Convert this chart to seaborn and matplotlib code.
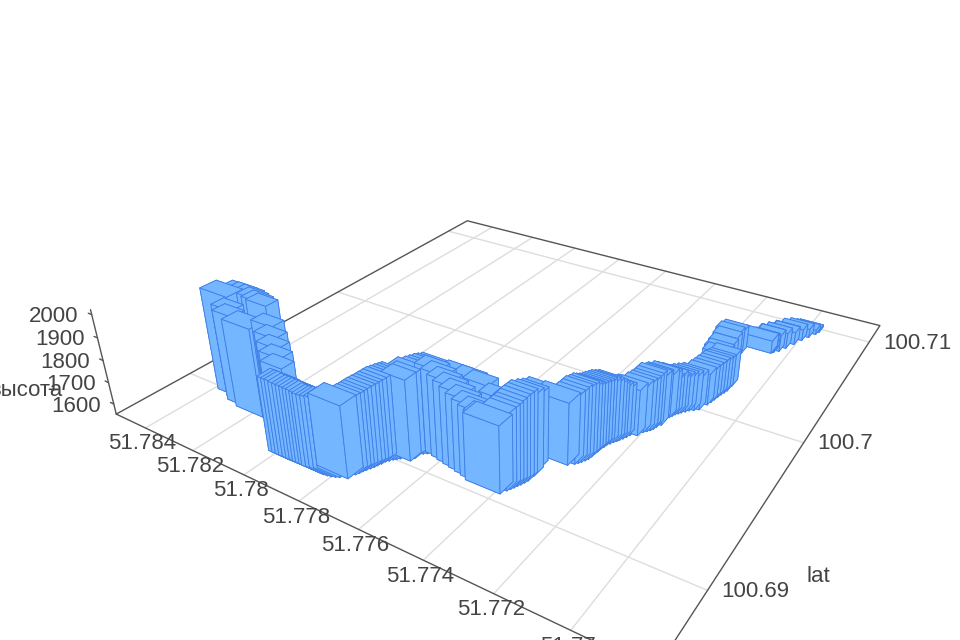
# 3D bars along a track, lon / lat / altitude
import pandas as pd
import seaborn as sns
import matplotlib
matplotlib.use('Agg')
import matplotlib.pyplot as plt
from mpl_toolkits.mplot3d import proj3d

lon = [51.78278, 51.78256, 51.78238, 51.78268, 51.78245, 51.78222, 51.78204, 51.78190, 51.78176, 51.78159,
       51.78106, 51.78079, 51.78053, 51.78027, 51.78004, 51.77945, 51.77920, 51.77894, 51.77869, 51.77845,
       51.77822, 51.77799, 51.77778, 51.77757, 51.77751, 51.77744, 51.77735, 51.77728, 51.77721, 51.77709,
       51.77696, 51.77667, 51.77671, 51.77657, 51.77639, 51.77624, 51.77603, 51.77579, 51.77555, 51.77531,
       51.77507, 51.77484, 51.77461, 51.77438, 51.77416, 51.77385, 51.77377, 51.77368, 51.77360, 51.77353,
       51.77351, 51.77356, 51.77361, 51.77300, 51.77286, 51.77275, 51.77266, 51.77263, 51.77260, 51.77255,
       51.77245, 51.77236, 51.77226, 51.77218, 51.77204, 51.77197, 51.77184, 51.77177, 51.77173, 51.77167,
       51.77159, 51.77148, 51.77133, 51.77111, 51.77101, 51.77094, 51.77088, 51.77081, 51.77079, 51.77101,
       51.77112, 51.77115, 51.77120, 51.77129, 51.77129, 51.77048, 51.77042, 51.77030, 51.77018, 51.77004,
       51.76991, 51.76978, 51.76965, 51.76960,
       51.77597, 51.77557, 51.77512, 51.77477, 51.77427,
       51.77932, 51.77907, 51.77881, 51.77857, 51.77833, 51.77810, 51.77788,
       51.77747, 51.77740, 51.77731, 51.77724, 51.77715, 51.77702, 51.77664, 51.77648, 51.77632,
       51.77372, 51.77364, 51.77356,
       51.77280, 51.77270, 51.77264, 51.77261, 51.77257, 51.77250, 51.77240, 51.77231, 51.77222,
       51.77190, 51.77180, 51.77170, 51.77163, 51.77153, 51.77140, 51.77122,
       51.77097, 51.77091, 51.77084, 51.77045, 51.77036, 51.77024, 51.77011]
lat = [100.68980, 100.68963, 100.68943, 100.69038, 100.69041, 100.69044, 100.69042, 100.69046, 100.69050, 100.68926,
       100.68976, 100.68949, 100.68921, 100.68895, 100.68866, 100.68768, 100.68769, 100.68770, 100.68771, 100.68771,
       100.68770, 100.68777, 100.68790, 100.68802, 100.68837, 100.68867, 100.68898, 100.68928, 100.68965, 100.68992,
       100.69013, 100.69024, 100.69068, 100.69089, 100.69113, 100.69136, 100.69116, 100.69108, 100.69100, 100.69091,
       100.69083, 100.69076, 100.69068, 100.69060, 100.69052, 100.69046, 100.69075, 100.69105, 100.69135, 100.69170,
       100.69209, 100.69257, 100.69314, 100.69341, 100.69362, 100.69388, 100.69420, 100.69463, 100.69505, 100.69543,
       100.69577, 100.69602, 100.69637, 100.69678, 100.69674, 100.69707, 100.69736, 100.69769, 100.69825, 100.69867,
       100.69901, 100.69929, 100.69962, 100.69993, 100.70048, 100.70102, 100.70156, 100.70202, 100.70253, 100.70242,
       100.70303, 100.70362, 100.70432, 100.70500, 100.70555, 100.70633, 100.70649, 100.70672, 100.70718, 100.70777,
       100.70836, 100.70884, 100.70933, 100.70961,
       100.69176, 100.69176, 100.69176, 100.69176, 100.69176,
       100.68768, 100.68769, 100.68770, 100.68771, 100.68771, 100.68773, 100.68783,
       100.68852, 100.68882, 100.68913, 100.68946, 100.68978, 100.69002, 100.69046, 100.69100, 100.69124,
       100.69090, 100.69120, 100.69152,
       100.69375, 100.69404, 100.69441, 100.69484, 100.69524, 100.69560, 100.69590, 100.69620, 100.69657,
       100.69722, 100.69752, 100.69797, 100.69884, 100.69915, 100.69945, 100.69977,
       100.70075, 100.70129, 100.70179, 100.70641, 100.70695, 100.70747, 100.70806]
alt = [2018, 1973, 1962, 2018, 2018, 2015, 2010, 2000, 1990, 1949, 1958, 1930, 1910, 1891, 1872, 1879, 1878, 1873, 1872, 1871,
       1866, 1865, 1865, 1865, 1870, 1875, 1884, 1889, 1895, 1899, 1904, 1903, 1910, 1910, 1918, 1919, 1925, 1916, 1906, 1897,
       1887, 1874, 1864, 1855, 1850, 1841, 1870, 1883, 1900, 1909, 1895, 1872, 1849, 1823, 1840, 1857, 1858, 1838, 1827, 1819,
       1808, 1786, 1765, 1752, 1757, 1757, 1767, 1780, 1759, 1747, 1709, 1705, 1705, 1706, 1697, 1698, 1699, 1695, 1696, 1696,
       1683, 1684, 1685, 1677, 1663, 1613, 1618, 1630, 1625, 1612, 1606, 1594, 1573, 1563,
       1884, 1897, 1897, 1892, 1858,
       1878, 1875, 1873, 1871, 1868, 1865, 1865,
       1872, 1880, 1886, 1892, 1897, 1902, 1906, 1914, 1918,
       1877, 1892, 1905,
       1848, 1857, 1848, 1832, 1823, 1813, 1797, 1775, 1758,
       1762, 1773, 1770, 1738, 1722, 1706, 1706,
       1697, 1698, 1697, 1620, 1620, 1610, 1600]
# the bars that show as broad blocks in the picture
wide_bars = [0, 9, 23, 45, 53, 85]

xticks = [51.784, 51.782, 51.78, 51.778, 51.776, 51.774, 51.772, 51.77]
yticks = [100.69, 100.7, 100.71]
zticks = [1600, 1700, 1800, 1900, 2000]
xtick_labels = ['51.784', '51.782', '51.78', '51.778', '51.776', '51.774', '51.772', '51.77']
ytick_labels = ['100.69', '100.7', '100.71']
ztick_labels = ['1600', '1700', '1800', '1900', '2000']

# axis ranges, x runs backwards like in the original
xhi, xlo = 51.7853, 51.768
ylo, yhi = 100.686, 100.712
zlo, zhi = 1552.23, 2021.1

sns.set_theme(style='white')
plt.rcParams['font.family'] = ['Liberation Sans', 'DejaVu Sans']
bar_color, edge_color = sns.color_palette(['#74b6ff', '#3f7fe8'])
text_color = '#444444'

fig = plt.figure(figsize=(9.6, 6.4), dpi=100)
ax = fig.add_axes([125.79 / 960, -80.85 / 640, 783.55 / 960, 783.55 / 640], projection='3d')
ax.computed_zorder = False

# back to front so the nearer bars cover the others
df = pd.DataFrame({'lon': lon, 'lat': lat, 'alt': alt})
df['wide'] = df.index.isin(wide_bars)
df['depth'] = 0.539 * (xhi - df['lon']) / (xhi - xlo) - 0.842 * (df['lat'] - ylo) / (yhi - ylo)
df = df.sort_values('depth').reset_index(drop=True)
for i, row in df.iterrows():
    dx, dy = (0.0011, 0.0009) if row['wide'] else (0.0008, 0.0007)
    ax.bar3d(row['lon'], row['lat'], zlo, dx, dy, row['alt'] - zlo,
             color=bar_color, edgecolor=edge_color, linewidth=0.6, shade=False, zorder=10 + i)

ax.set_xlim(xhi, xlo)
ax.set_ylim(ylo, yhi)
ax.set_zlim(zlo, zhi)
ax.set_box_aspect((1, 1.00672, 0.198393))
ax.view_init(elev=28.2773, azim=-57.4135)
ax.set_proj_type('persp', focal_length=0.22405)
ax.set_axis_off()

# floor grid
for x in xticks:
    ax.plot([x, x], [ylo, yhi], [zlo, zlo], color='#dddddd', lw=1, zorder=1, clip_on=False)
for y in yticks:
    ax.plot([xhi, xlo], [y, y], [zlo, zlo], color='#dddddd', lw=1, zorder=1, clip_on=False)

# axis lines round the floor and up the z axis
ax.plot([xhi, xlo, xlo, xhi, xhi], [ylo, ylo, yhi, yhi, ylo], [zlo] * 5, color='#555555', lw=1, zorder=2, clip_on=False)
ax.plot([xhi, xhi], [ylo, ylo], [zlo, zhi], color='#555555', lw=1, zorder=2, clip_on=False)
for z in zticks:
    ax.plot([xhi, xhi + 0.00015], [ylo, ylo], [z, z], color='#555555', lw=1, zorder=2, clip_on=False)

# tick labels sit a fixed number of pixels away from the axis
M = ax.get_proj()


def tick_label(x, y, z, label, dx, dy, ha):
    px, py, _ = proj3d.proj_transform(x, y, z, M)
    ax.annotate(label, (px, py), xytext=(dx, dy), textcoords='offset pixels', ha=ha, va='center',
                fontsize=16, color=text_color, annotation_clip=False)


for x, label in zip(xticks, xtick_labels):
    tick_label(x, ylo, zlo, label, -3, -16, 'center')
for y, label in zip(yticks, ytick_labels):
    tick_label(xlo, y, zlo, label, 14, -1, 'left')
for z, label in zip(zticks, ztick_labels):
    tick_label(xhi, ylo, z, label, -13, -2, 'right')

fig.text(818 / 960, 1 - 577 / 640, 'lat', fontsize=16, color=text_color, ha='center', va='center')
fig.text(63 / 960, 1 - 391 / 640, 'высота', fontsize=16, color=text_color, ha='right', va='center')

fig.savefig('out.png', dpi=100)
